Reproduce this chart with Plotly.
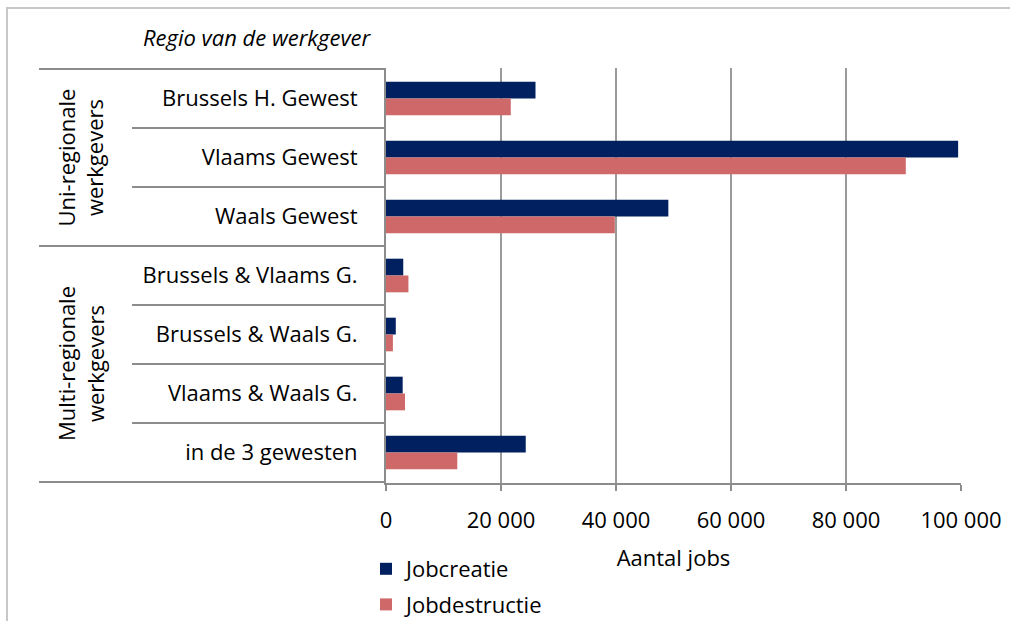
import plotly.graph_objects as go

# categories, top to bottom
regions = [
    "Brussels H. Gewest",
    "Vlaams Gewest",
    "Waals Gewest",
    "Brussels & Vlaams G.",
    "Brussels & Waals G.",
    "Vlaams & Waals G.",
    "in de 3 gewesten",
]
jobcreatie = [26000, 99500, 49100, 3000, 1700, 2900, 24300]
jobdestructie = [21700, 90400, 39800, 3900, 1200, 3300, 12400]

groups = ["Uni-regionale<br>werkgevers", "Multi-regionale<br>werkgevers"]
group_sizes = [3, 4]

FONT = "'Open Sans', Lato, sans-serif"
FS = 22
W, H = 1010, 621
L, R, T, B = 386, 49, 68, 138
pw, ph = W - L - R, H - T - B


def px_to_paper_x(px):
    return (px - L) / pw


def px_to_paper_y(py):
    return (H - B - py) / ph


fig = go.Figure()
fig.add_trace(go.Bar(y=regions, x=jobcreatie, orientation="h", name="Jobcreatie",
                     legendgroup="c", marker_color="#00205F", marker_line_width=0))
fig.add_trace(go.Bar(y=regions, x=jobdestructie, orientation="h", name="Jobdestructie",
                     legendgroup="d", marker_color="#CF6868", marker_line_width=0))

shapes = []
# row separators on the left, long ones at group boundaries
bounds = [0]
for s in group_sizes:
    bounds.append(bounds[-1] + s)
for k in range(len(regions) + 1):
    x0 = px_to_paper_x(39) if k in bounds else px_to_paper_x(132)
    shapes.append(dict(type="line", xref="paper", yref="y", x0=x0, x1=0,
                       y0=k - 0.5, y1=k - 0.5,
                       line=dict(color="#8C8C8C", width=2)))

# outer chart border (only top and left edges are visible in the crop)
shapes.append(dict(type="rect", xref="paper", yref="paper",
                   x0=px_to_paper_x(7), x1=px_to_paper_x(1040),
                   y0=px_to_paper_y(650), y1=px_to_paper_y(8),
                   line=dict(color="#C8C8C8", width=2), layer="below"))

annotations = [
    dict(text="<i>Regio van de werkgever</i>", xref="paper", yref="paper",
         x=px_to_paper_x(257), y=px_to_paper_y(37), xanchor="center", yanchor="middle",
         showarrow=False, font=dict(family=FONT, size=FS, color="black")),
]
start = 0
for g, s in zip(groups, group_sizes):
    annotations.append(dict(text=g, xref="paper", yref="y",
                            x=px_to_paper_x(80), y=start + (s - 1) / 2,
                            xanchor="center", yanchor="middle",
                            textangle=-90, showarrow=False,
                            font=dict(family=FONT, size=FS, color="black")))
    start += s

fig.update_layout(
    width=W, height=H,
    margin=dict(l=L, r=R, t=T, b=B, autoexpand=False),
    barmode="group",
    bargap=0.43,
    bargroupgap=0,
    plot_bgcolor="white",
    paper_bgcolor="white",
    separators=", ",
    font=dict(family=FONT, size=FS, color="black"),
    shapes=shapes,
    annotations=annotations,
    legend=dict(x=px_to_paper_x(366), y=px_to_paper_y(548), xanchor="left", yanchor="top",
                font=dict(family=FONT, size=FS), tracegroupgap=4),
    xaxis=dict(range=[0, 100000], dtick=20000, tickformat=",d",
               showgrid=True, gridcolor="#9A9A9A", gridwidth=2,
               zeroline=False, showline=True, linecolor="#8C8C8C", linewidth=2,
               ticks="outside", ticklen=6, tickcolor="#8C8C8C", tickwidth=2,
               ticklabelstandoff=11,
               title=dict(text="Aantal jobs", standoff=17, font=dict(size=FS))),
    yaxis=dict(autorange="reversed", showline=True, linecolor="#8C8C8C", linewidth=2,
               showgrid=False, ticks="", ticklabelstandoff=22),
)

fig.write_html("out.html", config={"displayModeBar": False},
               post_script="document.body.style.margin='0';")
